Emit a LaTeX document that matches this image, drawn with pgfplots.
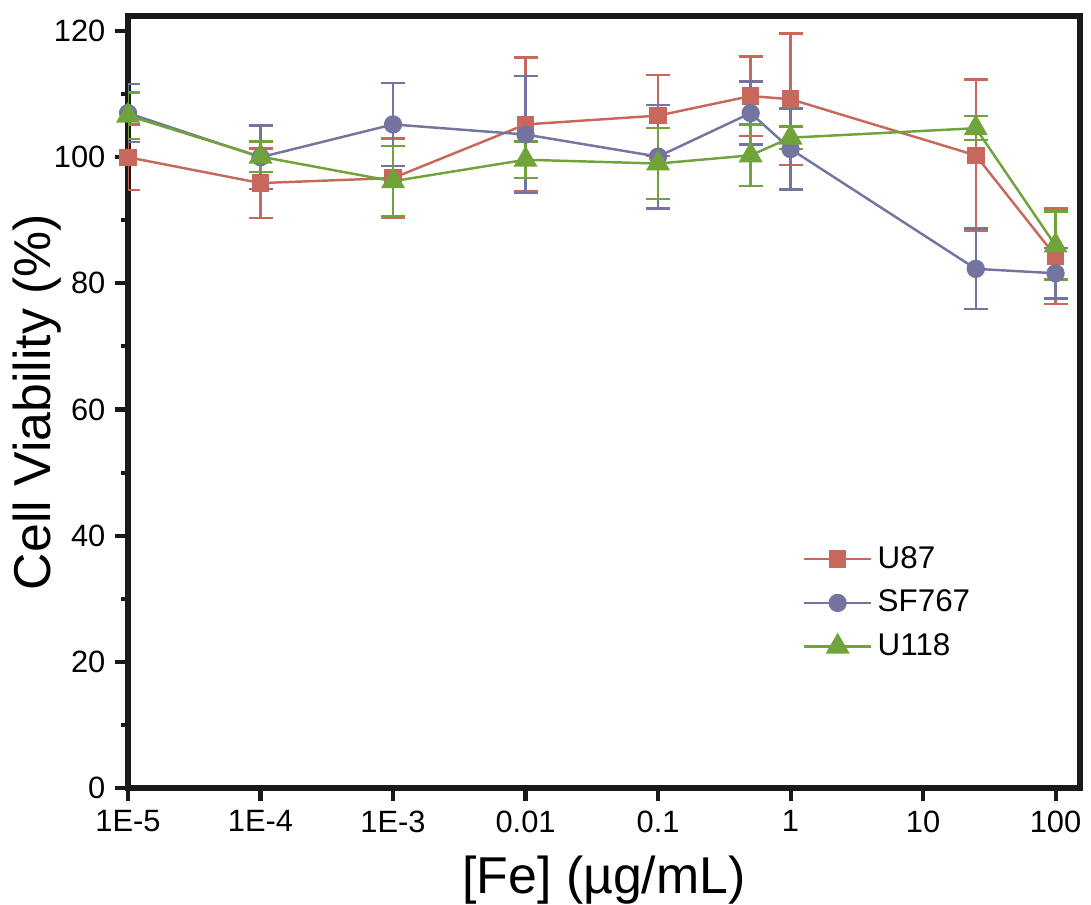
\documentclass[border=0pt]{standalone}
\usepackage{pgfplots}
\pgfplotsset{compat=1.18}
\usepackage{fontspec}
\setmainfont{Liberation Sans}
\definecolor{cred}{HTML}{C8685C}
\definecolor{cblue}{HTML}{7474A0}
\definecolor{cgreen}{HTML}{70A33A}
\begin{document}
\begin{tikzpicture}
\begin{axis}[
  scale only axis,
  width=349pt, height=283pt,
  xmode=log,
  xmin=1e-5, xmax=152.8,
  ymin=0, ymax=122.4,
  axis line style={line width=2pt, black!90},
  xtick={1e-5,1e-4,1e-3,0.01,0.1,1,10,100},
  xticklabels={1E-5,1E-4,1E-3,0.01,0.1,1,10,100},
  xminorticks=false,
  ytick={0,20,40,60,80,100,120},
  minor ytick={10,30,50,70,90,110},
  xtick pos=bottom, ytick pos=left,
  tick align=outside,
  major tick length=4.8pt,
  minor tick length=2.6pt,
  every tick/.style={line width=1.5pt, black!90},
  tick label style={font=\fontsize{11.3pt}{13pt}\selectfont},
  /pgf/number format/assume math mode=true,
  xlabel={[Fe] (µg/mL)},
  ylabel={Cell Viability (\%)},
  label style={font=\fontsize{19pt}{22pt}\selectfont},
  xlabel style={at={(axis description cs:0.5,-0.119)}, anchor=center},
  ylabel style={at={(axis description cs:-0.0956,0.5)}, anchor=center},
  legend style={draw=none, fill=none, at={(axis description cs:0.70,0.2396)}, anchor=west,
    font=\fontsize{11.5pt}{14pt}\selectfont, row sep=2.5pt},
  legend cell align=left,
  legend image code/.code={\draw[mark repeat=2,mark phase=2] plot coordinates {(0cm,0cm) (0.43cm,0cm) (0.86cm,0cm)};},
  every axis plot/.append style={line width=0.9pt},
  error bars/error bar style={line width=0.9pt},
  error bars/error mark options={rotate=90, mark size=4.4pt, line width=0.9pt},
]
\addplot[cred, mark=square*, mark size=2.75pt, mark options={solid},
  error bars/.cd, y dir=both, y explicit]
  table[x=x, y=y, y error=e] {
x y e
1e-5 100.0 5.2
1e-4 95.9 5.5
1e-3 96.7 6.3
0.01 105.2 10.6
0.1 106.6 6.4
0.5 109.7 6.3
1 109.2 10.4
25 100.3 12.0
100 84.3 7.6
};
\addlegendentry{U87}
\addplot[cblue, mark=*, mark size=2.9pt, mark options={solid},
  error bars/.cd, y dir=both, y explicit]
  table[x=x, y=y, y error=e] {
x y e
1e-5 107.0 4.6
1e-4 100.0 5.0
1e-3 105.2 6.6
0.01 103.6 9.3
0.1 100.1 8.2
0.5 107.0 5.0
1 101.3 6.4
25 82.3 6.4
100 81.6 4.0
};
\addlegendentry{SF767}
\addplot[cgreen, mark=triangle*, mark size=4.2pt, mark options={solid},
  error bars/.cd, y dir=both, y explicit]
  table[x=x, y=y, y error=e] {
x y e
1e-5 106.6 3.7
1e-4 100.1 2.4
1e-3 96.2 5.6
0.01 99.6 2.9
0.1 99.0 5.6
0.5 100.3 4.9
1 103.1 1.8
25 104.6 1.9
100 86.0 5.4
};
\addlegendentry{U118}
\coordinate (bbA) at (axis description cs:-0.1345,-0.1516);
\coordinate (bbB) at (axis description cs:1.0116,1.0207);
\end{axis}
\pgfresetboundingbox
\path[use as bounding box] (bbA) rectangle (bbB);
\end{tikzpicture}
\end{document}
